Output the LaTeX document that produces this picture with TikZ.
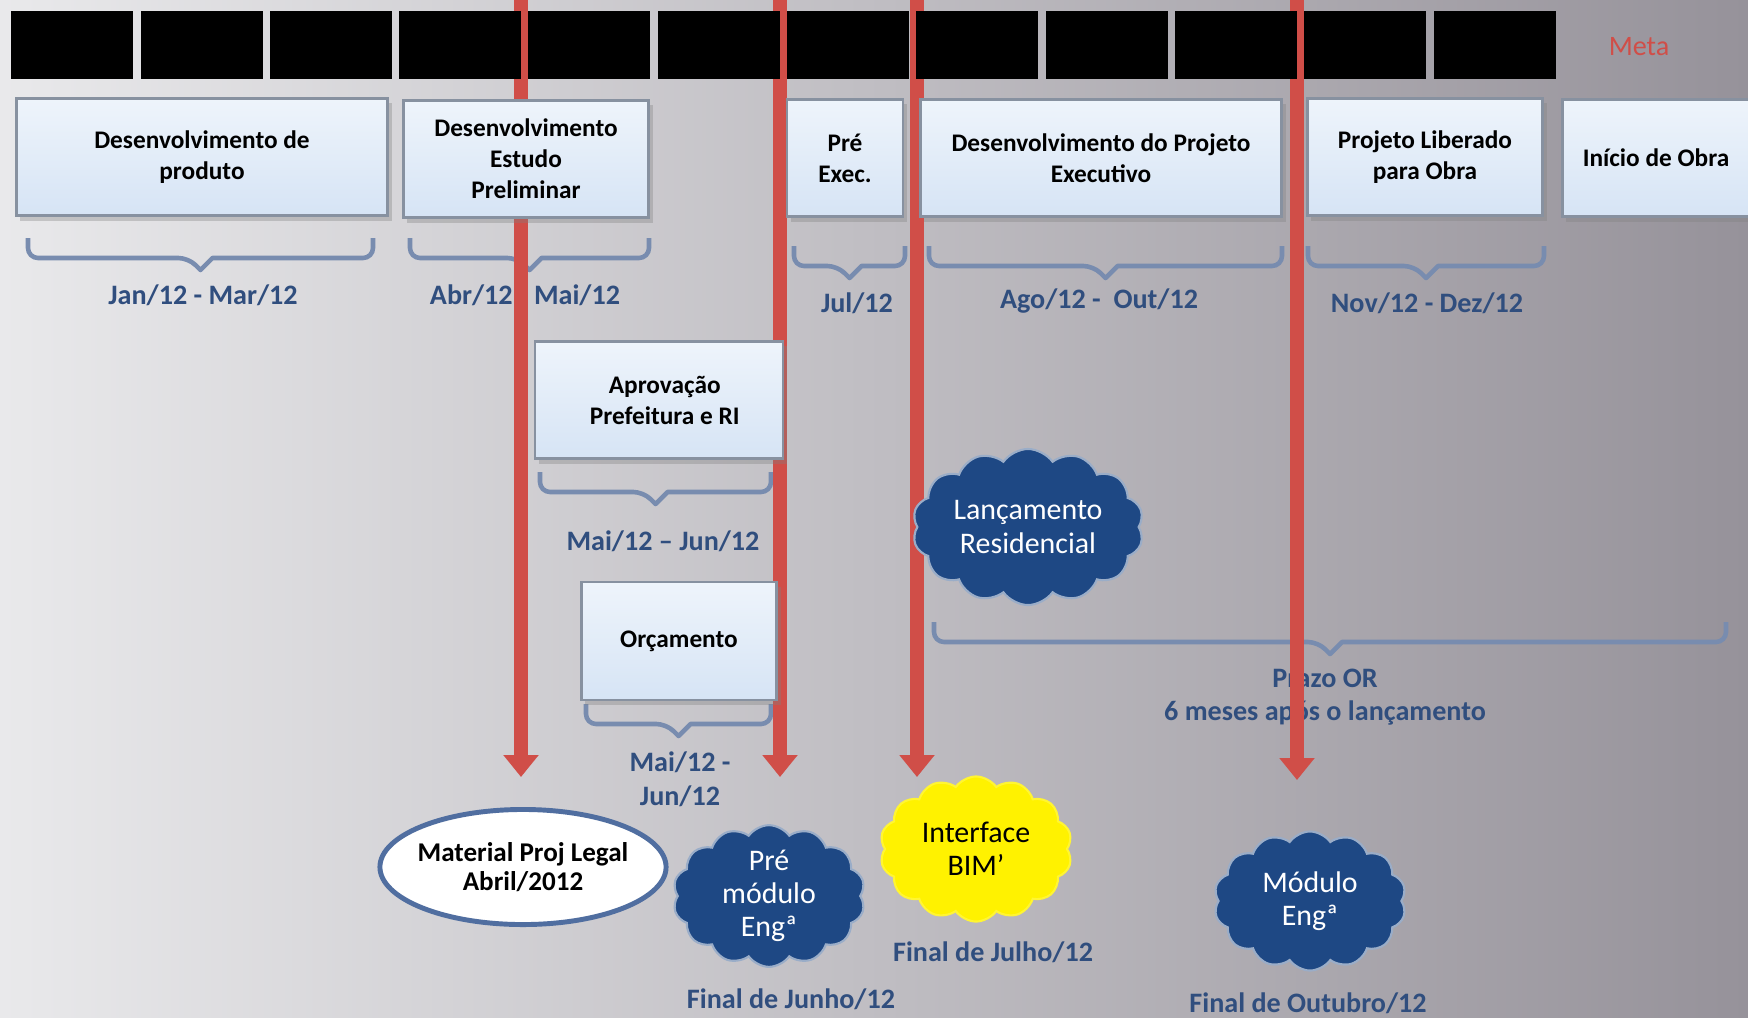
\documentclass[tikz,border=0pt]{standalone}
\usepackage{fontspec}
\setmainfont{Carlito}
\usetikzlibrary{arrows.meta,shapes.symbols,shapes.geometric,shadows}

\definecolor{bgleft}{RGB}{233,233,235}
\definecolor{bgmid}{RGB}{198,197,200}
\definecolor{bgright}{RGB}{150,146,154}
\definecolor{boxtop}{RGB}{238,244,251}
\definecolor{boxblue}{RGB}{214,228,245}
\definecolor{boxedge}{RGB}{135,145,160}
\definecolor{navy}{RGB}{48,78,126}
\definecolor{cloudblue}{RGB}{30,72,132}
\definecolor{bracegray}{RGB}{120,140,175}
\definecolor{milered}{RGB}{208,78,72}
\definecolor{ellblue}{RGB}{80,110,160}

% flat brace under a phase: from x #1 to x #2, top at y #3
\newcommand{\timespan}[3]{%
    \draw[span] (#1,#3) [rounded corners=0.1cm] -- (#1,{#3+20}) -- ({(#1+#2)/2-12},{#3+20})
        [sharp corners] -- ({(#1+#2)/2},{#3+32}) -- ({(#1+#2)/2+12},{#3+20})
        [rounded corners=0.1cm] -- (#2,{#3+20}) -- (#2,#3);}

\begin{document}
\begin{tikzpicture}[x=0.01cm, y=-0.01cm,
    month/.style={fill=black, minimum width=1.22cm, minimum height=0.67cm, inner sep=0},
    phase/.style={draw=boxedge, line width=0.8pt, top color=boxtop, bottom color=boxblue,
        align=center, inner sep=0, minimum height=1.17cm,
        font=\fontsize{7.2}{8.8}\selectfont\bfseries,
        drop shadow={shadow xshift=0.04cm, shadow yshift=-0.05cm, opacity=0.35}},
    span/.style={draw=bracegray, line width=1.3pt, line join=round},
    period/.style={text=navy, align=center, font=\fontsize{8}{9.6}\selectfont\bfseries},
    mile/.style={draw=milered, line width=0.14cm, -{Triangle[width=0.34cm, length=0.22cm]}},
    puff/.style={cloud, cloud puffs=14, cloud puff arc=110, cloud ignores aspect,
        minimum width=1.92cm, minimum height=1.39cm, inner sep=0, align=center,
        draw=white!55!cloudblue, line width=0.6pt,
        font=\fontsize{8.5}{9.4}\selectfont}
]
    \useasboundingbox (0,0) rectangle (1748,1017);
    \shade[left color=bgleft, middle color=bgmid, right color=bgright] (0,0) rectangle (1748,1017);

    % braces and periods
    \timespan{28}{373}{238}
    \timespan{410}{649}{238}
    \timespan{794}{905}{246}
    \timespan{929}{1282}{246}
    \timespan{1308}{1544}{246}
    \timespan{540}{771}{472}
    \timespan{586}{771}{704}
    \timespan{934}{1726}{622}

    \node[period] (jan) at (203,295) {Jan/12 - Mar/12};
    \node[period] (abr) at (525,295) {Abr/12 - Mai/12};
    \node[period] (jul) at (857,303) {Jul/12};
    \node[period] (ago) at (1099,301) {Ago/12 -\ \ Out/12};
    \node[period] (nov) at (1427,303) {Nov/12 - Dez/12};
    \node[period] (mai) at (663,541) {Mai/12 – Jun/12};
    \node[period] (maj) at (680,779) {Mai/12 -\\Jun/12};
    \node[period] (prazo) at (1325,697) {Prazo OR\\6 meses após o lançamento};
    \node[period] (fjun) at (791,999) {Final de Junho/12};
    \node[period] (fjul) at (993,952) {Final de Julho/12};
    \node[period] (fout) at (1308,1003) {Final de Outubro/12};
    \node[text=milered, font=\fontsize{8}{9}\selectfont] (meta) at (1639,47) {Meta};

    % milestones
    \coordinate (t1) at (521,0);
    \coordinate (e1) at (521,777);
    \coordinate (t2) at (780,0);
    \coordinate (e2) at (780,777);
    \coordinate (t3) at (917,0);
    \coordinate (e3) at (917,777);
    \coordinate (t4) at (1297,0);
    \coordinate (e4) at (1297,780);
    \draw[mile] (t1) -- (e1);
    \draw[mile] (t2) -- (e2);
    \draw[mile] (t3) -- (e3);
    \draw[mile] (t4) -- (e4);

    % months
    \node[month] (m1) at (72,45) {};
    \node[month] (m2) at (202,45) {};
    \node[month] (m3) at (331,45) {};
    \node[month] (m4) at (460,45) {};
    \node[month] (m5) at (589,45) {};
    \node[month] (m6) at (719,45) {};
    \node[month] (m7) at (848,45) {};
    \node[month] (m8) at (977,45) {};
    \node[month] (m9) at (1107,45) {};
    \node[month] (m10) at (1236,45) {};
    \node[month] (m11) at (1365,45) {};
    \node[month] (m12) at (1495,45) {};

    % phases
    \node[phase, minimum width=3.71cm] (dev) at (202,157) {Desenvolvimento de\\produto};
    \node[phase, minimum width=2.45cm] (est) at (526,159) {Desenvolvimento\\Estudo\\Preliminar};
    \node[phase, minimum width=1.16cm] (pre) at (845,158) {Pré\\Exec.};
    \node[phase, minimum width=3.61cm] (exe) at (1101,158) {Desenvolvimento do Projeto\\Executivo};
    \node[phase, minimum width=2.35cm] (lib) at (1425,157) {Projeto Liberado\\para Obra};
    \node[phase, minimum width=1.87cm] (obra) at (1656,158) {Início de Obra};
    \node[phase, minimum width=2.48cm] (apr) at (659,400) {\ \ Aprovação\\\ \ Prefeitura e RI};
    \node[phase, minimum width=1.95cm, minimum height=1.18cm] (orc) at (679,641) {Orçamento};

    % deliverables
    \node[puff, fill=cloudblue, text=white, minimum width=2.31cm, minimum height=1.56cm] (lanc) at (1028,527) {Lançamento\\Residencial};
    \node[puff, fill=cloudblue, text=white] (premod) at (769,896) {Pré\\módulo\\Engª};
    \node[puff, fill=yellow, draw=yellow!80!white, text=black, minimum height=1.45cm] (bim) at (976,849) {Interface\\BIM’};
    \node[puff, fill=cloudblue, text=white] (mod) at (1310,901) {Módulo\\Engª};
    \node[ellipse, draw=ellblue, line width=1.4pt, fill=white, minimum width=2.86cm, minimum height=1.15cm,
        inner xsep=-0.2cm, inner ysep=0, align=center, font=\fontsize{7.7}{8.4}\selectfont\bfseries] (legal) at (523,867) {Material Proj Legal\\Abril/2012};
\end{tikzpicture}
\end{document}
